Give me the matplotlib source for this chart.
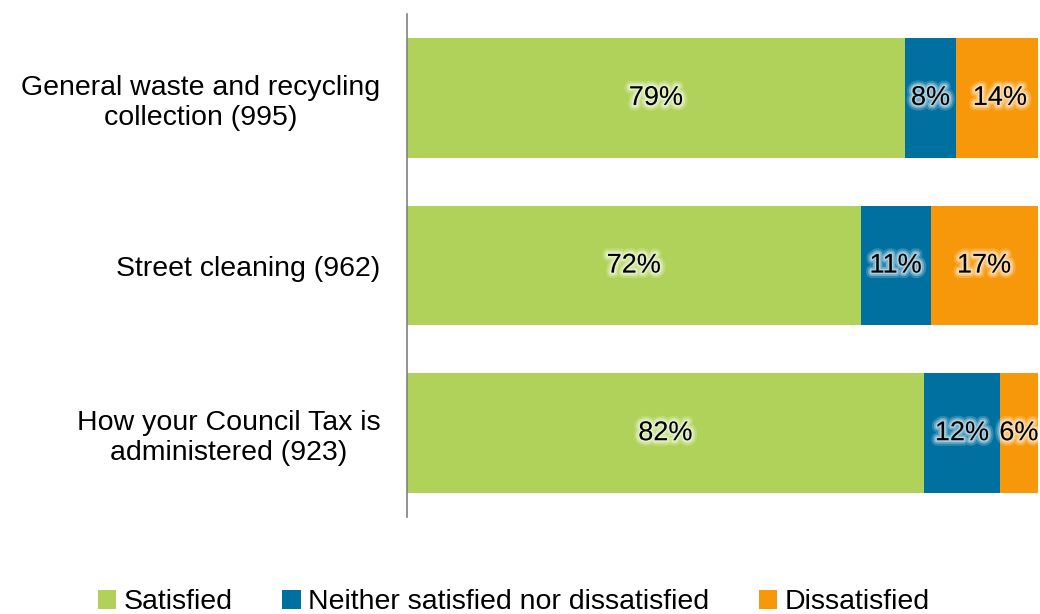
import matplotlib.pyplot as plt
import matplotlib.patheffects as pe
import numpy as np

plt.rcParams['font.family'] = ['Liberation Sans', 'DejaVu Sans']

categories = ['General waste and recycling\ncollection (995)',
              'Street cleaning (962)',
              'How your Council Tax is\nadministered (923)']
satisfied = [79, 72, 82]
neither = [8, 11, 12]
dissatisfied = [14, 17, 6]

series = [('Satisfied', satisfied, '#b0d25a'),
          ('Neither satisfied nor dissatisfied', neither, '#0070a0'),
          ('Dissatisfied', dissatisfied, '#f7970a')]

fig = plt.figure(figsize=(10.4, 6.14), dpi=100)
ax = fig.add_axes([0.391, 0.158, 0.607, 0.819])

y = np.arange(len(categories))
left = np.zeros(len(categories))
# soft light halo behind the value labels
glow = [pe.Stroke(linewidth=8, foreground='white', alpha=0.18),
        pe.Stroke(linewidth=5, foreground='white', alpha=0.3),
        pe.Stroke(linewidth=2.5, foreground='white', alpha=0.4),
        pe.Normal()]
for name, vals, color in series:
    bars = ax.barh(y, vals, left=left, height=0.714, color=color, label=name)
    for b, v in zip(bars, vals):
        cx = b.get_x() + b.get_width() / 2
        ax.text(cx, b.get_y() + b.get_height() / 2, f'{v}%', ha='center', va='center',
                fontsize=19.5, color='black', path_effects=glow, clip_on=False)
    left += np.array(vals)

ax.set_xlim(0, 100)
ax.set_ylim(2.5, -0.5)
ax.set_yticks(y)
ax.set_yticklabels(categories, fontsize=20.5)
for lbl in ax.get_yticklabels():
    lbl.set_multialignment('center')
ax.tick_params(axis='y', length=0, pad=19)
ax.set_xticks([])
for s in ['top', 'right', 'bottom']:
    ax.spines[s].set_visible(False)
ax.spines['left'].set_color('#808080')
ax.spines['left'].set_linewidth(1.2)

fig.legend(loc='lower center', bbox_to_anchor=(0.494, -0.044), ncol=3, frameon=False,
           fontsize=20.5, handlelength=0.65, handleheight=0.65, handletextpad=0.25,
           columnspacing=1.75)

fig.savefig('out.png', dpi=100)
